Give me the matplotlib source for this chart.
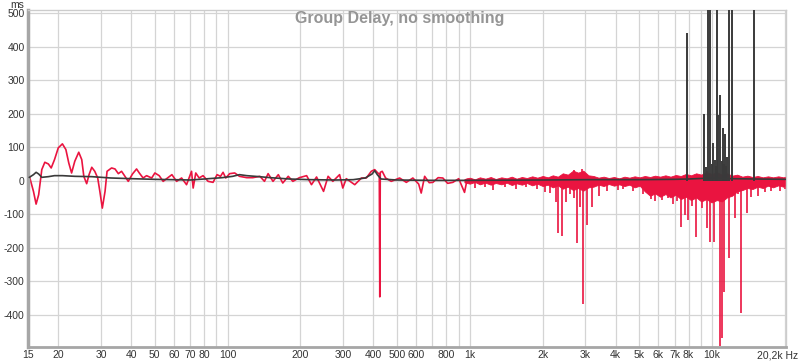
import matplotlib
matplotlib.use('Agg')
import matplotlib.pyplot as plt

# red trace below ~1 kHz, read point by point (Hz / ms)
red_hz = [15.2, 15.8, 16.2, 16.6, 17.1, 17.6, 18.2, 18.7, 19.3, 20.0, 20.8, 21.5, 22.1, 22.7,
          23.4, 24.3, 25.0, 25.5, 26.2, 26.8, 27.5, 28.3, 29.1, 29.7, 30.4, 31.2, 31.8, 33.2,
          34.3, 35.4, 36.5, 37.3, 38.9, 40.5, 42.1, 43.2, 44.8, 46.3, 48.6, 50.1, 52.2, 54.2,
          56.5, 58.9, 61.6, 64.6, 67.7, 71.0, 72.1, 73.9, 76.3, 79.2, 83.1, 87.1, 90.5, 93.5,
          95.8, 98.3, 102, 107, 112, 120, 127, 136, 142, 147, 154, 162, 169, 178, 186, 198,
          212, 222, 233, 249, 260, 272, 290, 299, 309, 335, 357, 374, 392, 405, 417, 423,
          425, 427, 435, 449, 474, 513, 547, 582, 615, 630, 651, 680, 704, 740, 774, 810,
          851, 900, 951, 975, 1000]
red_ms = [13, -32, -70, -42, 33, 55, 50, 38, 63, 98, 110, 93, 53, 23,
          58, 85, 63, 13, -9, 18, 40, 28, 8, -32, -82, -32, 28, 38,
          35, 21, 28, 18, -2, 20, 35, 23, 8, 15, 8, 23, 15, -2,
          8, 18, -2, 8, -12, 28, -22, 23, 8, 15, -2, -5, 18, 13,
          25, 8, 21, 23, 13, 9, 9, 13, -2, 21, -2, 18, -7, 13, -2, 9,
          15, -12, 11, -32, 13, -2, 18, -22, 6, -12, 8, 8, 28, 33, 23, 20,
          -347, 25, 28, 8, -2, 8, -5, 8, -10, -37, 13, -6, -5, 9, 8, -8,
          -5, 6, -35, 4, 2]

# red noise band above ~1 kHz (upper / lower edge, ms)
band_hz = [950, 1000, 1050, 1100, 1160, 1220, 1280, 1350, 1420, 1490, 1560, 1640, 1720, 1810,
           1900, 2000, 2100, 2200, 2310, 2420, 2540, 2670, 2800, 2940, 3090, 3240, 3400, 3570,
           3750, 3940, 4140, 4350, 4560, 4790, 5030, 5280, 5550, 5820, 6110, 6420, 6740, 7080,
           7430, 7800, 8190, 8600, 9030, 9480, 9960, 10460, 10980, 11530, 12100, 12700, 13340,
           14000, 14700, 15440, 16210, 17020, 17870, 18770, 19700, 20200]
band_hi = [5, 9, 4, 10, 6, 11, 5, 10, 7, 12, 6, 11, 8, 13,
           9, 14, 10, 16, 12, 22, 18, 30, 24, 30, 16, 14, 9, 12,
           8, 11, 7, 12, 9, 13, 10, 14, 11, 15, 12, 16, 12, 17,
           14, 20, 16, 22, 18, 26, 20, 25, 18, 22, 15, 18, 12,
           15, 11, 14, 10, 13, 10, 13, 10, 12]
band_lo = [-5, -9, -4, -11, -6, -12, -7, -11, -6, -13, -8, -12, -7, -14,
           -9, -16, -12, -20, -14, -24, -18, -28, -22, -30, -20, -18, -12, -16,
           -10, -15, -11, -16, -12, -20, -15, -32, -45, -38, -48, -40, -50, -42,
           -55, -48, -58, -50, -62, -55, -65, -58, -62, -50, -45, -32, -28,
           -22, -25, -18, -22, -15, -20, -14, -18, -12]

# red downward spikes
spike_hz = [1050, 1150, 1250, 1400, 1550, 1700, 1900, 2050, 2150, 2278, 2322, 2412, 2504,
            2600, 2703, 2781, 2860, 2945, 3058, 3206, 3400, 3700, 4100, 4300, 4700, 5200,
            5600, 5800, 6200, 6600, 6900, 7200, 7464, 7749, 7972, 8300, 8608, 9111, 9545,
            9831, 10201, 10807, 11031, 11200, 11774, 12464, 12800, 13194, 13967, 14500,
            15500, 16500, 17500, 19000, 20000]
spike_ms = [-22, -18, -28, -20, -26, -18, -24, -35, -38, -63, -156, -165, -63,
            -40, -51, -185, -78, -368, -132, -78, -45, -30, -28, -25, -32, -40,
            -55, -62, -58, -52, -70, -62, -137, -102, -117, -75, -167, -81, -141,
            -182, -182, -495, -470, -332, -230, -111, -40, -395, -96, -50,
            -45, -35, -30, -30, -25]

# red upward spikes
up_hz = [2700, 2900, 9500, 10500]
up_ms = [32, 35, 30, 28]

# dark gray trace
gray_hz = [15.2, 15.8, 16.2, 16.6, 17.1, 18.2, 19.3, 20.8, 23.4, 27.5, 33, 40, 50, 60, 70, 80,
           95, 105, 112, 120, 135, 150, 180, 220, 280, 330, 370, 395, 405, 415, 430, 500, 700,
           1000, 2000, 3000, 5000, 7000, 8000, 10000, 12000, 15000, 20200]
gray_ms = [10, 18, 25, 20, 10, 12, 15, 15, 13, 12, 8, 6, 4, 3, 2, 5,
           9, 13, 18, 15, 12, 9, 5, 3, 2, 3, 8, 20, 30, 18, 5, 2, 1,
           1, 2, 3, 3, 4, 5, 8, 6, 5, 4]

# dark gray upward spikes (600 = past the top of the chart)
gspike_hz = [7902, 9288, 9400, 9645, 9831, 9950, 10050, 10250, 10400, 10506, 10612, 10807,
             10950, 11140, 11250, 11353, 11450, 11570, 11774, 12114, 14925]
gspike_ms = [440, 200, 40, 600, 600, 50, 113, 63, 45, 600, 197, 255,
             60, 158, 50, 140, 45, 72, 600, 600, 600]

x_ticks = [15, 20, 30, 40, 50, 60, 70, 80, 100, 200, 300, 400, 500, 600, 800, 1000,
           2000, 3000, 4000, 5000, 6000, 7000, 8000, 10000]
x_labels = ['15', '20', '30', '40', '50', '60', '70', '80', '100', '200', '300', '400', '500',
            '600', '800', '1k', '2k', '3k', '4k', '5k', '6k', '7k', '8k', '10k']
x_grid = [20, 30, 40, 50, 60, 70, 80, 90, 100, 200, 300, 400, 500, 600, 700, 800, 900,
          1000, 2000, 3000, 4000, 5000, 6000, 7000, 8000, 9000, 10000, 20000]
y_ticks = [500, 400, 300, 200, 100, 0, -100, -200, -300, -400]

RED = '#ea1440'
GRAY = '#3a3a3a'

plt.rcParams['font.family'] = ['Liberation Sans', 'DejaVu Sans']

fig = plt.figure(figsize=(8, 3.63), dpi=100)
ax = fig.add_axes([28 / 800, 1 - 347 / 363, 758 / 800, 337 / 363])
ax.set_xscale('log')
ax.set_xlim(15, 20200)
ax.set_ylim(-497, 510)

ax.set_xticks(x_ticks)
ax.set_xticklabels(x_labels)
ax.set_xticks(x_grid, minor=True)
ax.set_xticklabels([], minor=True)
ax.set_yticks(y_ticks)
ax.set_yticklabels([str(v) for v in y_ticks])
ax.grid(which='both', axis='x', color='#d4d4d4', lw=0.9)
ax.grid(which='major', axis='y', color='#d4d4d4', lw=0.9)
ax.set_axisbelow(True)
ax.tick_params(which='both', length=0, labelsize=7.5, labelcolor='#333333')
ax.tick_params(axis='x', pad=2)
ax.tick_params(axis='y', pad=2.5)

for side in ['top', 'right']:
    ax.spines[side].set_color('#cccccc')
    ax.spines[side].set_linewidth(1.0)
ax.spines['left'].set_color('#a6a6a6')
ax.spines['left'].set_linewidth(2.5)
ax.spines['bottom'].set_color('#a6a6a6')
ax.spines['bottom'].set_linewidth(2.0)

# red trace
ax.fill_between(band_hz, band_lo, band_hi, color=RED, lw=0.6, edgecolor=RED, zorder=2)
ax.vlines(spike_hz, 0, spike_ms, color=RED, lw=1.2, zorder=2)
ax.vlines(up_hz, 0, up_ms, color=RED, lw=1.2, zorder=2)
ax.plot(red_hz, red_ms, color=RED, lw=1.2, zorder=2)

# gray trace
ax.plot(gray_hz, gray_ms, color=GRAY, lw=1.2, zorder=3)
ax.vlines(gspike_hz, 0, gspike_ms, color=GRAY, lw=1.4, zorder=3)

fig.text(400 / 800, 1 - 18 / 363, 'Group Delay, no smoothing', ha='center', va='center',
         fontsize=11.5, fontweight='bold', color='#959595')
fig.text(17 / 800, 1 - 5 / 363, 'ms', ha='center', va='center', fontsize=7.5, color='#333333')
fig.text(798 / 800, 1 - 355 / 363, '20,2k Hz', ha='right', va='center', fontsize=7.5,
         color='#333333')

fig.savefig('out.png', dpi=100, facecolor='white')
